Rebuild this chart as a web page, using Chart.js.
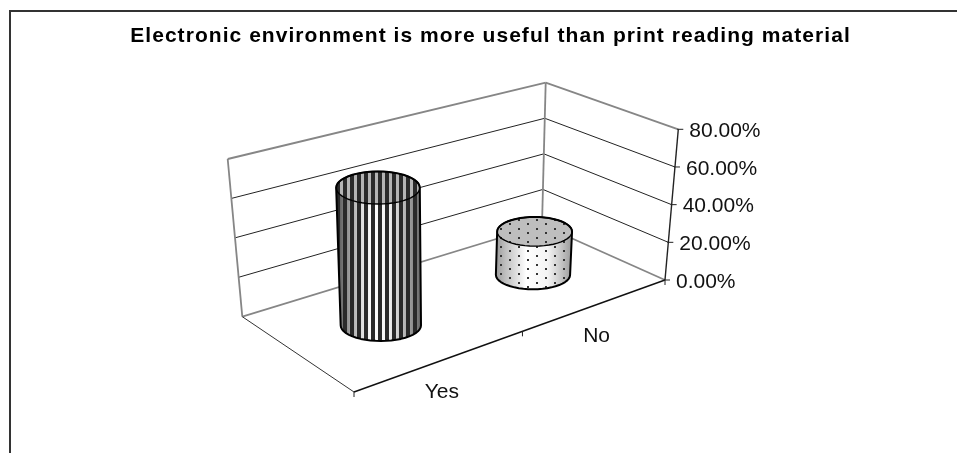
<!DOCTYPE html>
<html><head><meta charset="utf-8">
<style>html,body{margin:0;padding:0;background:#fff;overflow:hidden}canvas{display:block}</style>
<script src="https://cdn.jsdelivr.net/npm/chart.js@4"></script>
</head><body>
<canvas id="c" width="957" height="453"></canvas>
<script>
const categories = ['Yes', 'No'];
const seriesValues = [69.5, 23];
const tickLabels = ['0.00%', '20.00%', '40.00%', '60.00%', '80.00%'];
const chartTitle = 'Electronic environment is more useful than print reading material';

// Picture-plane corners of the 3D box (floor and value-80 plane) : the projection only.
const FLOOR = [[354,392],[665,280],[542,225],[242.3,316.7]];
const ROOF  = [[349,225.3],[678.3,129.3],[545.7,82.7],[227.7,159]];
const FONT = '"Liberation Sans", Arial, sans-serif';

function quadMap(q){
  const [x0,y0]=q[0],[x1,y1]=q[1],[x2,y2]=q[2],[x3,y3]=q[3];
  const dx1=x1-x2,dx2=x3-x2,sx=x0-x1+x2-x3,dy1=y1-y2,dy2=y3-y2,sy=y0-y1+y2-y3;
  const det=dx1*dy2-dx2*dy1;
  const g=(sx*dy2-dx2*sy)/det,h=(dx1*sy-sx*dy1)/det;
  const a=x1-x0+g*x1,b=x3-x0+h*x3,d=y1-y0+g*y1,e=y3-y0+h*y3;
  return (u,v)=>{const k=g*u+h*v+1;return [(a*u+b*v+x0)/k,(d*u+e*v+y0)/k];};
}
const floorAt=quadMap(FLOOR), roofAt=quadMap(ROOF);
function P(u,v,w){const f=floorAt(u,v),r=roofAt(u,v);return [f[0]+(r[0]-f[0])*w,f[1]+(r[1]-f[1])*w];}
function line(ctx,a,b,color,width){ctx.beginPath();ctx.moveTo(a[0],a[1]);ctx.lineTo(b[0],b[1]);ctx.strokeStyle=color;ctx.lineWidth=width;ctx.stroke();}
function path(ctx,pts){ctx.beginPath();pts.forEach((p,i)=>i?ctx.lineTo(p[0],p[1]):ctx.moveTo(p[0],p[1]));ctx.closePath();}
function hull(points){
  const s=points.slice().sort((a,b)=>a[0]-b[0]||a[1]-b[1]);
  const cr=(o,a,b)=>(a[0]-o[0])*(b[1]-o[1])-(a[1]-o[1])*(b[0]-o[0]);
  const lo=[],up=[];
  for(const p of s){while(lo.length>1&&cr(lo[lo.length-2],lo[lo.length-1],p)<=0)lo.pop();lo.push(p);}
  for(const p of s.slice().reverse()){while(up.length>1&&cr(up[up.length-2],up[up.length-1],p)<=0)up.pop();up.push(p);}
  return lo.slice(0,-1).concat(up.slice(0,-1));
}
function stripeTile(){const t=document.createElement('canvas');t.width=7;t.height=2;const c=t.getContext('2d');c.fillStyle='#2a2a2a';c.fillRect(0,0,4,2);return t;}
function dotTile(){const t=document.createElement('canvas');t.width=18;t.height=18;const c=t.getContext('2d');c.fillStyle='#333';
  [[4,2],[4,11],[13,6],[13,15]].forEach(d=>c.fillRect(d[0],d[1],2,2));return t;}
const looks=[
 {tile:stripeTile,stops:[[0,'#4d4d4d'],[.12,'#8c8c8c'],[.3,'#dcdcdc'],[.42,'#ffffff'],[.62,'#f2f2f2'],[.8,'#b8b8b8'],[1,'#666666']],cap:'#b4b4b4'},
 {tile:dotTile,stops:[[0,'#999999'],[.12,'#bdbdbd'],[.28,'#e2e2e2'],[.4,'#ffffff'],[.68,'#f4f4f4'],[.82,'#d0d0d0'],[1,'#9a9a9a']],cap:'#bebebe'}
];
const RADIUS_U=.12, FLATNESS=.39, DEPTH=.48, NUDGE_X=-2.5;

const box3d={
  id:'box3d',
  beforeDraw(chart){chart.ctx.letterSpacing='1.05px';},
  beforeDatasetsDraw(chart){
    const ctx=chart.ctx,y=chart.scales.y,x=chart.scales.x;
    ctx.letterSpacing='0px';
    ctx.save();
    // frame
    ctx.strokeStyle='#333';ctx.lineWidth=2;ctx.beginPath();ctx.moveTo(10,453);ctx.lineTo(10,11);ctx.lineTo(957,11);ctx.stroke();
    const frac=v=>(y.bottom-y.getPixelForValue(v))/(y.bottom-y.top);
    // gridlines on the two walls
    y.ticks.forEach(t=>{
      const w=frac(t.value),edge=w===0||w===1;
      const col=edge?'#868686':'#222',lw=edge?1.8:1;
      line(ctx,P(0,1,w),P(1,1,w),col,lw);
      line(ctx,P(1,1,w),P(1,0,w),col,lw);
    });
    line(ctx,P(0,1,0),P(0,1,1),'#868686',1.8);
    line(ctx,P(1,1,0),P(1,1,1),'#868686',1.8);
    // floor edges and axes
    line(ctx,P(0,0,0),P(0,1,0),'#333',1);
    line(ctx,P(0,0,0),P(1,0,0),'#111',1.4);
    line(ctx,P(1,0,0),P(1,0,1),'#222',1.4);
    // value ticks and labels
    ctx.fillStyle='#111';ctx.font='21px '+FONT;ctx.textBaseline='middle';ctx.textAlign='left';
    y.ticks.forEach(t=>{
      const p=P(1,0,frac(t.value));
      line(ctx,[p[0]-1,p[1]],[p[0]+5,p[1]],'#222',1);
      ctx.fillText(t.label,p[0]+11,p[1]+2);
    });
    // category ticks and labels
    for(let i=0;i<=categories.length;i++){
      const p=P(i/categories.length,0,0);
      line(ctx,p,[p[0],p[1]+5],'#222',1);
    }
    ctx.textAlign='center';
    categories.forEach((c,i)=>{
      const u=(x.getPixelForValue(i)-x.left)/(x.right-x.left);
      const p=P(u,0,0);
      ctx.fillText(c,p[0],p[1]+32);
    });
    ctx.restore();
  },
  beforeDatasetDraw(chart,args){
    const ctx=chart.ctx,xs=chart.scales.x,ys=chart.scales.y;
    const meta=chart.getDatasetMeta(args.index);
    meta.data.forEach((el,i)=>{
      const u=(el.x-xs.left)/(xs.right-xs.left);
      const w=(ys.bottom-el.y)/(ys.bottom-ys.top);
      const circ=h=>{
        const c=P(u,DEPTH,h),l=P(u-RADIUS_U,DEPTH,h),r=P(u+RADIUS_U,DEPTH,h);
        const a0=P(0,DEPTH,h),a1=P(1,DEPTH,h);
        const local=Math.hypot(r[0]-l[0],r[1]-l[1])/2,whole=Math.hypot(a1[0]-a0[0],a1[1]-a0[1])*RADIUS_U;
        const rx=(local+whole)/2,ry=rx*FLATNESS;
        const a=[];for(let k=0;k<48;k++){const t=k/48*2*Math.PI;a.push([c[0]+NUDGE_X+rx*Math.cos(t),c[1]+ry*Math.sin(t)]);}return a;
      };
      const bot=circ(0),top=circ(w),body=hull(bot.concat(top));
      const minX=Math.min(...body.map(p=>p[0])),maxX=Math.max(...body.map(p=>p[0])),minY=Math.min(...body.map(p=>p[1]));
      const look=looks[i],pat=ctx.createPattern(look.tile(),'repeat');
      pat.setTransform(new DOMMatrix().translate(Math.round(minX),Math.round(minY)));
      ctx.save();
      ctx.lineJoin='round';
      const g=ctx.createLinearGradient(minX,0,maxX,0);
      look.stops.forEach(s=>g.addColorStop(s[0],s[1]));
      path(ctx,body);ctx.fillStyle=g;ctx.fill();
      ctx.fillStyle=pat;ctx.fill();
      path(ctx,top);ctx.fillStyle=look.cap;ctx.fill();
      ctx.fillStyle=pat;ctx.fill();
      path(ctx,body);ctx.strokeStyle='#000';ctx.lineWidth=2;ctx.stroke();
      path(ctx,top);ctx.lineWidth=1.4;ctx.stroke();
      ctx.restore();
    });
    return false;
  }
};

new Chart(document.getElementById('c'),{
  type:'bar',
  data:{labels:categories,datasets:[{label:'Share',data:seriesValues}]},
  plugins:[box3d],
  options:{
    responsive:false,animation:false,
    layout:{padding:{left:24}},
    plugins:{
      legend:{display:false},tooltip:{enabled:false},
      title:{display:true,text:chartTitle,color:'#000',align:'center',
        font:{family:FONT,size:21,weight:'bold'},padding:{top:24,bottom:8}}
    },
    scales:{
      x:{grid:{display:false},border:{display:false},ticks:{display:false}},
      y:{min:0,max:80,grid:{display:false},border:{display:false},
        ticks:{display:false,stepSize:20,callback:(v,i)=>tickLabels[i]}}
    }
  }
});
</script>
</body></html>
